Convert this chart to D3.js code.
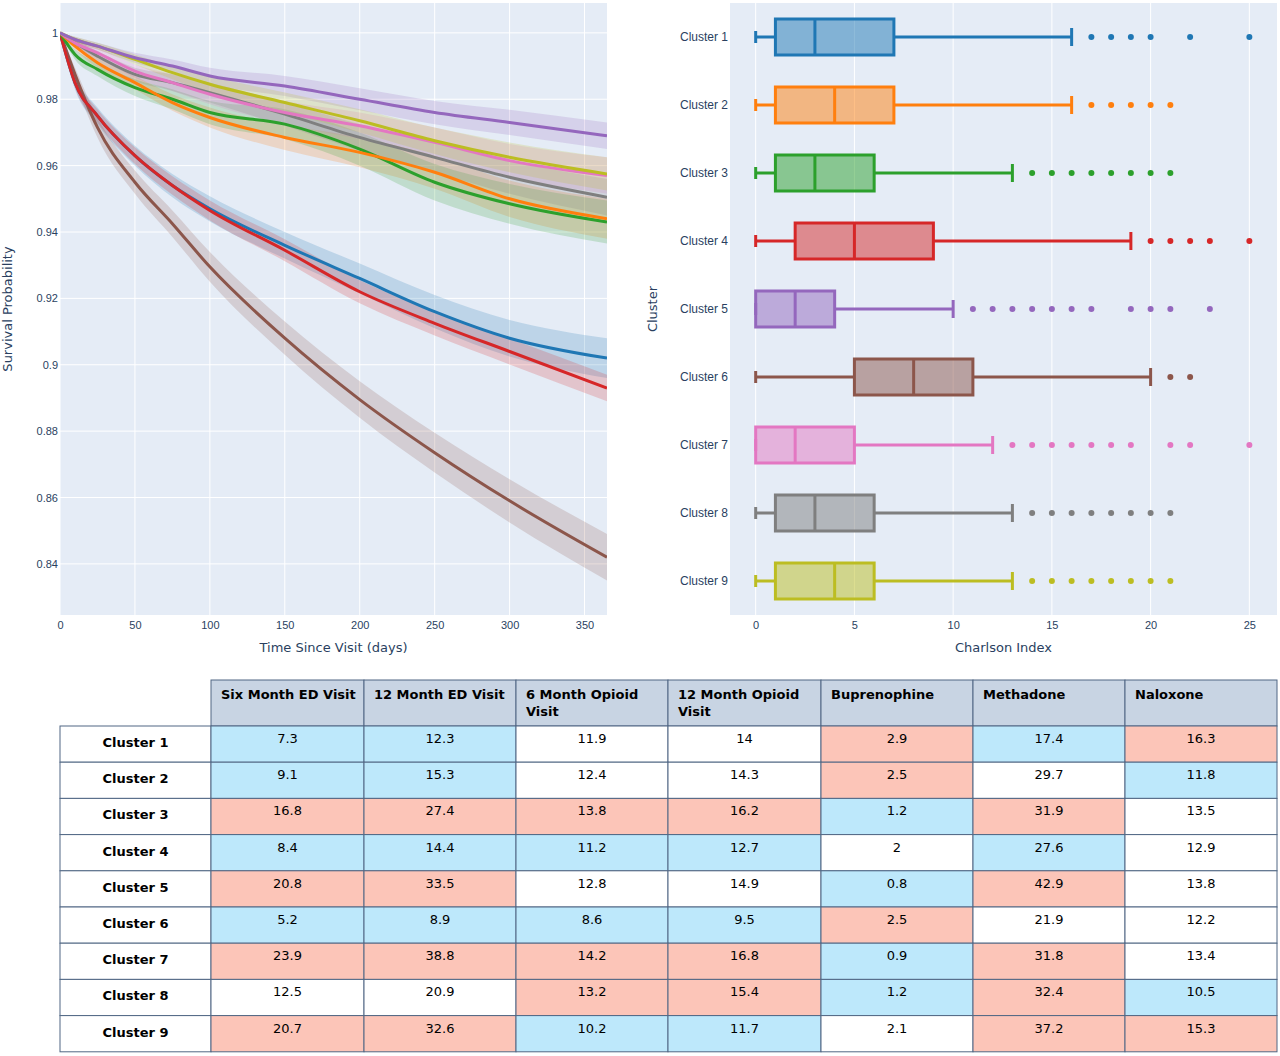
<!DOCTYPE html>
<html lang="en">
<head>
<meta charset="utf-8">
<title>Cluster survival, Charlson index and outcomes</title>
<script src="https://d3js.org/d3.v7.min.js"></script>
<style>
  body { margin: 0; background: #fff; font-family: 'DejaVu Sans', Verdana, sans-serif; }
  svg text { fill: #2a3f5f; }
  .grid line { stroke: #fff; }
  .axis path, .axis line { display: none; }
  .axis text { font-size: 11px; }
  .ylab text { font-size: 12px; }
</style>
</head>
<body>
<svg id="chart" width="1280" height="1056"></svg>
<script>
// ---- data ----
var clusters = ["Cluster 1","Cluster 2","Cluster 3","Cluster 4","Cluster 5","Cluster 6","Cluster 7","Cluster 8","Cluster 9"];
var colors = ["#1f77b4","#ff7f0e","#2ca02c","#d62728","#9467bd","#8c564b","#e377c2","#7f7f7f","#bcbd22"];
var days = [0,10,25,50,75,100,150,200,250,300,365];
var survival = [
  [1,0.985,0.975,0.963,0.954,0.947,0.936,0.926,0.916,0.908,0.902],
  [1,0.996,0.991,0.985,0.979,0.9745,0.9685,0.964,0.958,0.950,0.944],
  [1,0.9935,0.989,0.9835,0.980,0.976,0.9725,0.965,0.955,0.9485,0.943],
  [1,0.985,0.975,0.963,0.954,0.9465,0.9345,0.922,0.9125,0.904,0.893],
  [1,0.998,0.996,0.9925,0.990,0.987,0.984,0.980,0.976,0.973,0.969],
  [1,0.9875,0.9715,0.955,0.9425,0.9295,0.908,0.8895,0.8735,0.859,0.842],
  [1,0.997,0.994,0.9885,0.985,0.9815,0.976,0.972,0.967,0.9615,0.957],
  [1,0.997,0.993,0.9875,0.985,0.982,0.9755,0.9685,0.9625,0.9565,0.9505],
  [1,0.998,0.996,0.992,0.988,0.9845,0.979,0.9735,0.9675,0.9625,0.9575]
];
var ciHalf = [
  [0,0.002,0.0025,0.003,0.0035,0.0038,0.004,0.0045,0.005,0.0055,0.006],
  [0,0.001,0.0015,0.002,0.0025,0.003,0.0038,0.0045,0.005,0.0055,0.006],
  [0,0.0015,0.002,0.0025,0.003,0.0035,0.0045,0.005,0.0055,0.006,0.0065],
  [0,0.0015,0.002,0.0025,0.0028,0.003,0.0033,0.0035,0.0037,0.0039,0.004],
  [0,0.0008,0.001,0.0015,0.002,0.0025,0.003,0.0033,0.0035,0.0038,0.004],
  [0,0.002,0.003,0.0035,0.004,0.0045,0.005,0.0055,0.006,0.0065,0.007],
  [0,0.001,0.0015,0.002,0.0025,0.003,0.0035,0.004,0.0045,0.005,0.0055],
  [0,0.001,0.0015,0.002,0.0025,0.003,0.0035,0.004,0.0045,0.005,0.0055],
  [0,0.0008,0.001,0.0015,0.002,0.0025,0.003,0.0035,0.004,0.0045,0.005]
];
// box stats: [min, q1, median, q3, upper whisker]
var boxStats = [
  [0,1,3,7,16],[0,1,4,7,16],[0,1,3,6,13],[0,2,5,9,19],[0,0,2,4,10],
  [0,5,8,11,20],[0,0,2,5,12],[0,1,3,6,13],[0,1,4,6,13]
];
var outliers = [
  [17,18,19,20,22,25],
  [17,18,19,20,21],
  [14,15,16,17,18,19,20,21],
  [20,21,22,23,25],
  [11,12,13,14,15,16,17,19,20,21,23],
  [21,22],
  [13,14,15,16,17,18,19,21,22,25],
  [14,15,16,17,18,19,20,21],
  [14,15,16,17,18,19,20,21]
];
var tableHeaders = ["Six Month ED Visit","12 Month ED Visit","6 Month Opioid Visit","12 Month Opioid Visit","Buprenophine","Methadone","Naloxone"];
var tableValues = [
  [7.3,12.3,11.9,14,2.9,17.4,16.3],
  [9.1,15.3,12.4,14.3,2.5,29.7,11.8],
  [16.8,27.4,13.8,16.2,1.2,31.9,13.5],
  [8.4,14.4,11.2,12.7,2,27.6,12.9],
  [20.8,33.5,12.8,14.9,0.8,42.9,13.8],
  [5.2,8.9,8.6,9.5,2.5,21.9,12.2],
  [23.9,38.8,14.2,16.8,0.9,31.8,13.4],
  [12.5,20.9,13.2,15.4,1.2,32.4,10.5],
  [20.7,32.6,10.2,11.7,2.1,37.2,15.3]
];
// b = below (blue), r = above (red), w = neutral
var tableFlags = [
  "bbwwrbr","bbwwrwb","rrrrbrw","bbbbwbw","rrwwbrw","bbbbrww","rrrrbrw","wwrrbrb","rrbbwrr"
];

var svg = d3.select("#chart");
var bg = "#e5ecf6";

// ---- survival chart ----
var L = {x0: 60, x1: 607, y0: 3, y1: 615};
var xs = d3.scaleLinear().domain([0, 365]).range([L.x0, L.x1]);
var ys = d3.scaleLinear().domain([0.8246, 1.009]).range([L.y1, L.y0]);
var gL = svg.append("g");
gL.append("rect").attr("x", L.x0).attr("y", L.y0).attr("width", L.x1 - L.x0).attr("height", L.y1 - L.y0).attr("fill", bg);
gL.append("g").attr("class", "grid").selectAll("line").data(d3.range(0, 366, 50)).join("line")
  .attr("x1", d => xs(d)).attr("x2", d => xs(d)).attr("y1", L.y0).attr("y2", L.y1);
gL.append("g").attr("class", "grid").selectAll("line").data(d3.range(0.84, 1.001, 0.02)).join("line")
  .attr("x1", L.x0).attr("x2", L.x1).attr("y1", d => ys(d)).attr("y2", d => ys(d));
gL.append("g").attr("class", "axis").attr("transform", "translate(0," + L.y1 + ")")
  .call(d3.axisBottom(xs).tickValues(d3.range(0, 351, 50)).tickSize(0).tickPadding(6));
gL.append("g").attr("class", "axis").attr("transform", "translate(" + L.x0 + ",0)")
  .call(d3.axisLeft(ys).tickValues(d3.range(0.84, 1.001, 0.02)).tickFormat(d3.format("~g")).tickSize(0).tickPadding(2));
gL.append("text").attr("x", (L.x0 + L.x1) / 2).attr("y", 652).attr("text-anchor", "middle").attr("font-size", 13).text("Time Since Visit (days)");
gL.append("text").attr("transform", "translate(12," + (L.y0 + L.y1) / 2 + ") rotate(-90)").attr("text-anchor", "middle").attr("font-size", 13).text("Survival Probability");

svg.append("clipPath").attr("id", "clipL").append("rect")
  .attr("x", L.x0).attr("y", L.y0).attr("width", L.x1 - L.x0).attr("height", L.y1 - L.y0);
var area = d3.area().curve(d3.curveMonotoneX)
  .x((d, i) => xs(days[i])).y0(d => ys(d[0])).y1(d => ys(d[1]));
var line = d3.line().curve(d3.curveMonotoneX).x((d, i) => xs(days[i])).y(d => ys(d));
var plotG = gL.append("g").attr("clip-path", "url(#clipL)");
survival.forEach(function (s, k) {
  plotG.append("path").datum(s.map((v, i) => [v - ciHalf[k][i], v + ciHalf[k][i]]))
    .attr("d", area).attr("fill", colors[k]).attr("opacity", 0.2);
});
var drawOrder = [5, 0, 3, 2, 1, 7, 6, 8, 4];
drawOrder.forEach(function (k) {
  plotG.append("path").datum(survival[k]).attr("d", line)
    .attr("fill", "none").attr("stroke", colors[k]).attr("stroke-width", 3);
});

// ---- box plot ----
var R = {x0: 730, x1: 1277, y0: 3, y1: 615};
var bx = d3.scaleLinear().domain([-1.3, 26.4]).range([R.x0, R.x1]);
var by = d3.scaleBand().domain(clusters).range([R.y0, R.y1]);
var gR = svg.append("g");
gR.append("rect").attr("x", R.x0).attr("y", R.y0).attr("width", R.x1 - R.x0).attr("height", R.y1 - R.y0).attr("fill", bg);
gR.append("g").attr("class", "grid").selectAll("line").data(d3.range(0, 26, 5)).join("line")
  .attr("x1", d => bx(d)).attr("x2", d => bx(d)).attr("y1", R.y0).attr("y2", R.y1);
gR.append("g").attr("class", "axis").attr("transform", "translate(0," + R.y1 + ")")
  .call(d3.axisBottom(bx).tickValues(d3.range(0, 26, 5)).tickSize(0).tickPadding(6));
gR.append("g").attr("class", "axis ylab").attr("transform", "translate(" + R.x0 + ",0)")
  .call(d3.axisLeft(by).tickSize(0).tickPadding(2));
gR.append("text").attr("x", (R.x0 + R.x1) / 2).attr("y", 652).attr("text-anchor", "middle").attr("font-size", 13).text("Charlson Index");
gR.append("text").attr("transform", "translate(657," + (R.y0 + R.y1) / 2 + ") rotate(-90)").attr("text-anchor", "middle").attr("font-size", 13).text("Cluster");

var bh = 36;
clusters.forEach(function (c, k) {
  var s = boxStats[k], cy = by(c) + by.bandwidth() / 2, col = colors[k];
  var g = gR.append("g").attr("stroke", col).attr("stroke-width", 3);
  g.append("line").attr("x1", bx(s[0])).attr("x2", bx(s[1])).attr("y1", cy).attr("y2", cy);
  g.append("line").attr("x1", bx(s[3])).attr("x2", bx(s[4])).attr("y1", cy).attr("y2", cy);
  g.append("line").attr("x1", bx(s[0])).attr("x2", bx(s[0])).attr("y1", cy - 6).attr("y2", cy + 6);
  g.append("line").attr("x1", bx(s[4])).attr("x2", bx(s[4])).attr("y1", cy - 9).attr("y2", cy + 9);
  g.append("rect").attr("x", bx(s[1])).attr("y", cy - bh / 2).attr("width", bx(s[3]) - bx(s[1])).attr("height", bh)
    .attr("fill", col).attr("fill-opacity", 0.5);
  g.append("line").attr("x1", bx(s[2])).attr("x2", bx(s[2])).attr("y1", cy - bh / 2).attr("y2", cy + bh / 2);
  gR.append("g").selectAll("circle").data(outliers[k]).join("circle")
    .attr("cx", d => bx(d)).attr("cy", cy).attr("r", 3).attr("fill", col);
});

// ---- table ----
var colX = [60, 211, 364, 516, 668, 821, 973, 1125, 1277];
var headTop = 680, rowTop = 726, rowH = 36.2;
var fills = {b: "#bde8fb", r: "#fcc5b8", w: "#ffffff"};
var gT = svg.append("g").attr("stroke", "#506784").attr("stroke-width", 1);
tableHeaders.forEach(function (h, j) {
  var x = colX[j + 1], w = colX[j + 2] - x;
  gT.append("rect").attr("x", x).attr("y", headTop).attr("width", w).attr("height", rowTop - headTop).attr("fill", "#c8d4e3");
  // wrap header text to cell width, measured
  var t = gT.append("text").attr("x", x + 10).attr("y", headTop + 19).attr("stroke", "none")
    .attr("font-size", 13).attr("font-weight", "bold").style("fill", "#000");
  var words = h.split(" "), ln = [];
  var span = t.append("tspan").attr("x", x + 10);
  words.forEach(function (wd) {
    ln.push(wd);
    span.text(ln.join(" "));
    if (span.node().getComputedTextLength() > w - 16 && ln.length > 1) {
      ln.pop(); span.text(ln.join(" "));
      ln = [wd];
      span = t.append("tspan").attr("x", x + 10).attr("dy", 17).text(wd);
    }
  });
});
tableValues.forEach(function (row, i) {
  var y = rowTop + i * rowH;
  gT.append("rect").attr("x", colX[0]).attr("y", y).attr("width", colX[1] - colX[0]).attr("height", rowH).attr("fill", "#fff");
  gT.append("text").attr("x", (colX[0] + colX[1]) / 2).attr("y", y + 21).attr("text-anchor", "middle").attr("stroke", "none")
    .attr("font-size", 13).attr("font-weight", "bold").style("fill", "#000").text(clusters[i]);
  row.forEach(function (v, j) {
    var x = colX[j + 1], w = colX[j + 2] - x;
    gT.append("rect").attr("x", x).attr("y", y).attr("width", w).attr("height", rowH).attr("fill", fills[tableFlags[i][j]]);
    gT.append("text").attr("x", x + w / 2).attr("y", y + 17).attr("text-anchor", "middle").attr("stroke", "none")
      .attr("font-size", 13).style("fill", "#000").text(v);
  });
});
</script>
</body>
</html>
